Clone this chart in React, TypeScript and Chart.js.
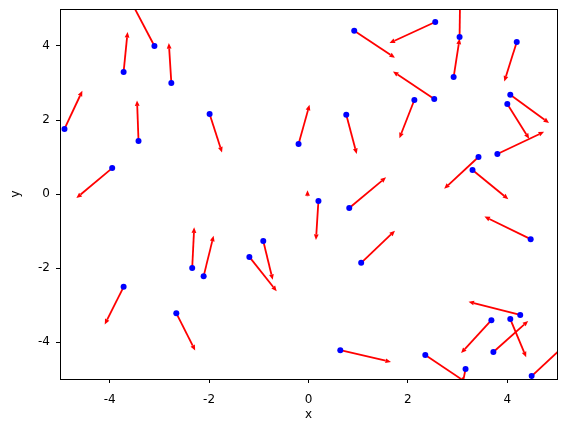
import { useEffect, useRef } from "react";
import { Chart, registerables } from "chart.js";

Chart.register(...registerables);

// Arrow tails (dots are drawn at the tails)
const tailX = [-3.10, -3.72, -2.76, -4.91, -3.42, -1.99, -3.95, 0.92, -0.20, 0.76, -0.02, 0.20, 0.82, 2.55, 3.04, 2.92, 4.19, 2.53, 2.13, 4.06, 4.00, 3.80, 3.42, 3.30, -2.34, -2.11, -3.72, -2.66, -0.91, -1.19, 1.06, 0.64, 4.47, 4.26, 3.68, 4.06, 3.72, 2.35, 3.16, 4.49];
const tailY = [4.00, 3.30, 3.00, 1.76, 1.43, 2.16, 0.70, 4.41, 1.35, 2.14, -0.06, -0.19, -0.38, 4.65, 4.24, 3.16, 4.11, 2.57, 2.54, 2.68, 2.43, 1.08, 1.00, 0.65, -2.00, -2.22, -2.51, -3.22, -1.27, -1.70, -1.86, -4.22, -1.22, -3.27, -3.41, -3.38, -4.27, -4.35, -4.73, -4.92];
// Arrow heads
const headX = [-3.55, -3.64, -2.81, -4.55, -3.45, -1.74, -4.67, 1.74, 0.02, 0.97, -0.02, 0.15, 1.56, 1.63, 3.05, 3.04, 3.94, 1.70, 1.83, 4.84, 4.44, 4.74, 2.73, 4.02, -2.30, -1.91, -4.10, -2.28, -0.72, -0.64, 1.74, 1.66, 3.54, 3.22, 3.07, 4.38, 4.42, 3.16, 3.00, 5.17];
const headY = [5.15, 4.38, 4.08, 2.79, 2.53, 1.12, -0.11, 3.68, 2.41, 1.08, 0.10, -1.24, 0.45, 4.08, 5.32, 4.20, 3.04, 3.31, 1.51, 1.92, 1.49, 1.68, 0.14, -0.14, -0.90, -1.13, -3.53, -4.23, -2.32, -2.63, -0.99, -4.54, -0.61, -2.91, -4.30, -4.41, -3.43, -5.08, -5.80, -4.07];
const hasDot = [true, true, true, true, true, true, true, true, true, true, false, true, true, true, true, true, true, true, true, true, true, true, true, true, true, true, true, true, true, true, true, true, true, true, true, true, true, true, true, true];

const xTicks = [-4, -2, 0, 2, 4];
const yTicks = [-4, -2, 0, 2, 4];
const xLabel = "x";
const yLabel = "y";

const FONT = "'DejaVu Sans', sans-serif";

const arrowPlugin = {
  id: "arrows",
  beforeDatasetsDraw(chart: any) {
    const { ctx, chartArea: a } = chart;
    const xs = chart.scales.x;
    const ys = chart.scales.y;
    ctx.save();
    ctx.beginPath();
    ctx.rect(a.left, a.top, a.right - a.left, a.bottom - a.top);
    ctx.clip();
    ctx.strokeStyle = "#ff0000";
    ctx.fillStyle = "#ff0000";
    ctx.lineWidth = 1.8;
    ctx.lineCap = "butt";
    for (let i = 0; i < tailX.length; i++) {
      const x0 = xs.getPixelForValue(tailX[i]);
      const y0 = ys.getPixelForValue(tailY[i]);
      const x1 = xs.getPixelForValue(headX[i]);
      const y1 = ys.getPixelForValue(headY[i]);
      const ang = Math.atan2(y1 - y0, x1 - x0);
      const c = Math.cos(ang);
      const s = Math.sin(ang);
      const hl = 5.5;
      const hw = 2.4;
      const bx = x1 - hl * c;
      const by = y1 - hl * s;
      ctx.beginPath();
      ctx.moveTo(x0, y0);
      ctx.lineTo(bx, by);
      ctx.stroke();
      ctx.beginPath();
      ctx.moveTo(x1, y1);
      ctx.lineTo(bx + hw * s, by - hw * c);
      ctx.lineTo(bx - hw * s, by + hw * c);
      ctx.closePath();
      ctx.fill();
    }
    ctx.restore();
  },
  afterDraw(chart: any) {
    const { ctx, chartArea: a } = chart;
    ctx.save();
    ctx.strokeStyle = "#000";
    ctx.lineWidth = 1;
    ctx.strokeRect(Math.round(a.left) + 0.5, Math.round(a.top) + 0.5, Math.round(a.right - a.left), Math.round(a.bottom - a.top));
    ctx.restore();
  },
};

export default function App() {
  const ref = useRef<HTMLCanvasElement>(null);
  useEffect(() => {
    if (!ref.current) return;
    const pts = tailX
      .map((x, i) => ({ x, y: tailY[i] }))
      .filter((_, i) => hasDot[i]);
    const chart = new Chart(ref.current, {
      type: "scatter",
      data: {
        datasets: [
          {
            data: pts,
            pointRadius: 3,
            pointHoverRadius: 3,
            pointBackgroundColor: "#0000ff",
            pointBorderWidth: 0,
            borderWidth: 0,
          },
        ],
      },
      options: {
        responsive: false,
        animation: false,
        devicePixelRatio: 1,
        layout: { padding: { top: 9, right: 8, left: 0, bottom: 0 } },
        plugins: { legend: { display: false }, tooltip: { enabled: false } },
        events: [],
        scales: {
          x: {
            type: "linear",
            min: -5,
            max: 5,
            afterBuildTicks: (axis: any) => {
              axis.ticks = xTicks.map((v) => ({ value: v }));
            },
            afterFit: (scale: any) => {
              scale.height = 53;
              scale.paddingLeft = 0;
              scale.paddingRight = 0;
            },
            ticks: { color: "#000", font: { family: FONT, size: 12 }, padding: 10, maxRotation: 0, autoSkip: false },
            grid: { drawOnChartArea: false, drawTicks: true, tickLength: 4, color: "#000", lineWidth: 1 },
            border: { display: true, color: "#000", width: 1 },
            title: { display: true, text: xLabel, color: "#000", font: { family: FONT, size: 12 }, padding: { top: 0, bottom: 10 } },
          },
          y: {
            type: "linear",
            min: -5,
            max: 5,
            afterBuildTicks: (axis: any) => {
              axis.ticks = yTicks.map((v) => ({ value: v }));
            },
            afterFit: (scale: any) => {
              scale.width = 60;
              scale.paddingTop = 0;
              scale.paddingBottom = 0;
            },
            ticks: { color: "#000", font: { family: FONT, size: 12 }, padding: 6, autoSkip: false },
            grid: { drawOnChartArea: false, drawTicks: true, tickLength: 4, color: "#000", lineWidth: 1 },
            border: { display: true, color: "#000", width: 1 },
            title: { display: true, text: yLabel, color: "#000", font: { family: FONT, size: 12 }, padding: { top: 9, bottom: 0 } },
          },
        },
      },
      plugins: [arrowPlugin],
    });
    return () => chart.destroy();
  }, []);
  return (
    <div style={{ position: "absolute", left: 0, top: 0, width: 565, height: 432, background: "#fff" }}>
      <canvas ref={ref} width={565} height={432} />
    </div>
  );
}
